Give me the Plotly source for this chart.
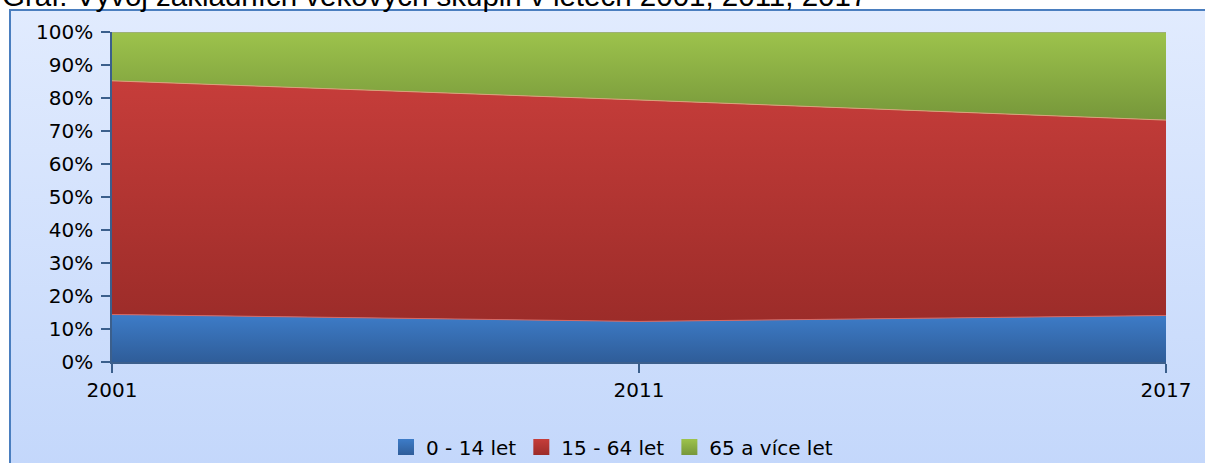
import base64
import plotly.graph_objects as go

# ---- data ----
years = ["2001", "2011", "2017"]
age_0_14 = [14.4, 12.3, 14.1]
age_15_64 = [70.8, 67.1, 59.2]
age_65_plus = [14.8, 20.6, 26.7]
series_names = ["0 - 14 let", "15 - 64 let", "65 a více let"]
title_text = "Graf: Vývoj základních věkových skupin v letech 2001, 2011, 2017"

W, H = 1205, 463
L, R, T, B = 112, 39, 32, 101
pw, ph = W - L - R, H - T - B


def px_x(x):
    return (x - L) / pw


def px_y(y):
    return (H - B - y) / ph


colors = [
    ("#2f5d99", "#3d7cc8", "#d46a66"),
    ("#9c2c29", "#c63d3a", "#d9a37a"),
    ("#76973a", "#9dc34c", "#a0a0a0"),
]

fig = go.Figure()
for name, vals, (dark, light, edge) in zip(series_names, [age_0_14, age_15_64, age_65_plus], colors):
    fig.add_trace(go.Scatter(
        x=years, y=[v / 100 for v in vals], name=name, mode="lines",
        stackgroup="one", line=dict(color=edge, width=1),
        fillgradient=dict(type="vertical", colorscale=[[0, dark], [1, light]]),
        showlegend=False, hoverinfo="skip",
    ))
    fig.add_trace(go.Scatter(
        x=[None], y=[None], name=name, mode="markers",
        marker=dict(symbol="square", size=18, color=light,
                    gradient=dict(type="vertical", color=dark)),
    ))

svg = (
    '<svg xmlns="http://www.w3.org/2000/svg" width="100" height="100" preserveAspectRatio="none">'
    '<defs><linearGradient id="g" x1="0" y1="0" x2="0" y2="1">'
    '<stop offset="0" stop-color="#e1ebfe"/><stop offset="1" stop-color="#c3d7fb"/>'
    '</linearGradient></defs><rect width="100" height="100" fill="url(#g)"/></svg>'
)
uri = "data:image/svg+xml;base64," + base64.b64encode(svg.encode()).decode()

fx0, fx1 = px_x(10), px_x(1215)
fy1, fy0 = px_y(10), px_y(475)
fig.add_layout_image(dict(
    source=uri, xref="paper", yref="paper", x=fx0, y=fy1,
    sizex=fx1 - fx0, sizey=fy1 - fy0, sizing="stretch",
    xanchor="left", yanchor="top", layer="below",
))
fig.add_shape(type="rect", xref="paper", yref="paper", x0=fx0, x1=fx1, y0=fy0, y1=fy1,
              line=dict(color="#4a7ebf", width=2), fillcolor="rgba(0,0,0,0)", layer="below")

fig.add_annotation(text=title_text, xref="paper", yref="paper", x=px_x(0), y=px_y(-4),
                   xanchor="left", yanchor="middle", showarrow=False,
                   font=dict(family="Liberation Sans, Arial", size=29.5, color="#000000"))

axis_col = "#3b5f8c"
font_family = "DejaVu Sans, Lato, sans-serif"
fig.update_layout(
    width=W, height=H,
    margin=dict(l=L, r=R, t=T, b=B, autoexpand=False),
    paper_bgcolor="white", plot_bgcolor="rgba(0,0,0,0)",
    font=dict(family=font_family, size=20, color="#000000"),
    showlegend=True,
    legend=dict(orientation="h", x=px_x(386), y=px_y(447), xanchor="left", yanchor="middle",
                bgcolor="rgba(0,0,0,0)", font=dict(size=20), itemsizing="trace",
                traceorder="normal", tracegroupgap=0, itemwidth=30),
    xaxis=dict(type="category", range=[0, 2], showgrid=False, zeroline=False,
               showline=True, linecolor=axis_col, linewidth=1.5,
               ticks="outside", ticklen=9, tickcolor=axis_col, tickwidth=1.5,
               tickfont=dict(size=20)),
    yaxis=dict(range=[0, 1], tickformat=".0%", dtick=0.1, showgrid=False, zeroline=False,
               showline=True, linecolor=axis_col, linewidth=1.5,
               ticks="outside", ticklen=9, tickcolor=axis_col, tickwidth=1.5,
               ticklabelstandoff=4, tickfont=dict(size=20)),
)

fig.write_html("out.html", config={"displayModeBar": False},
               post_script="document.body.style.margin='0';document.body.style.overflow='hidden';")
